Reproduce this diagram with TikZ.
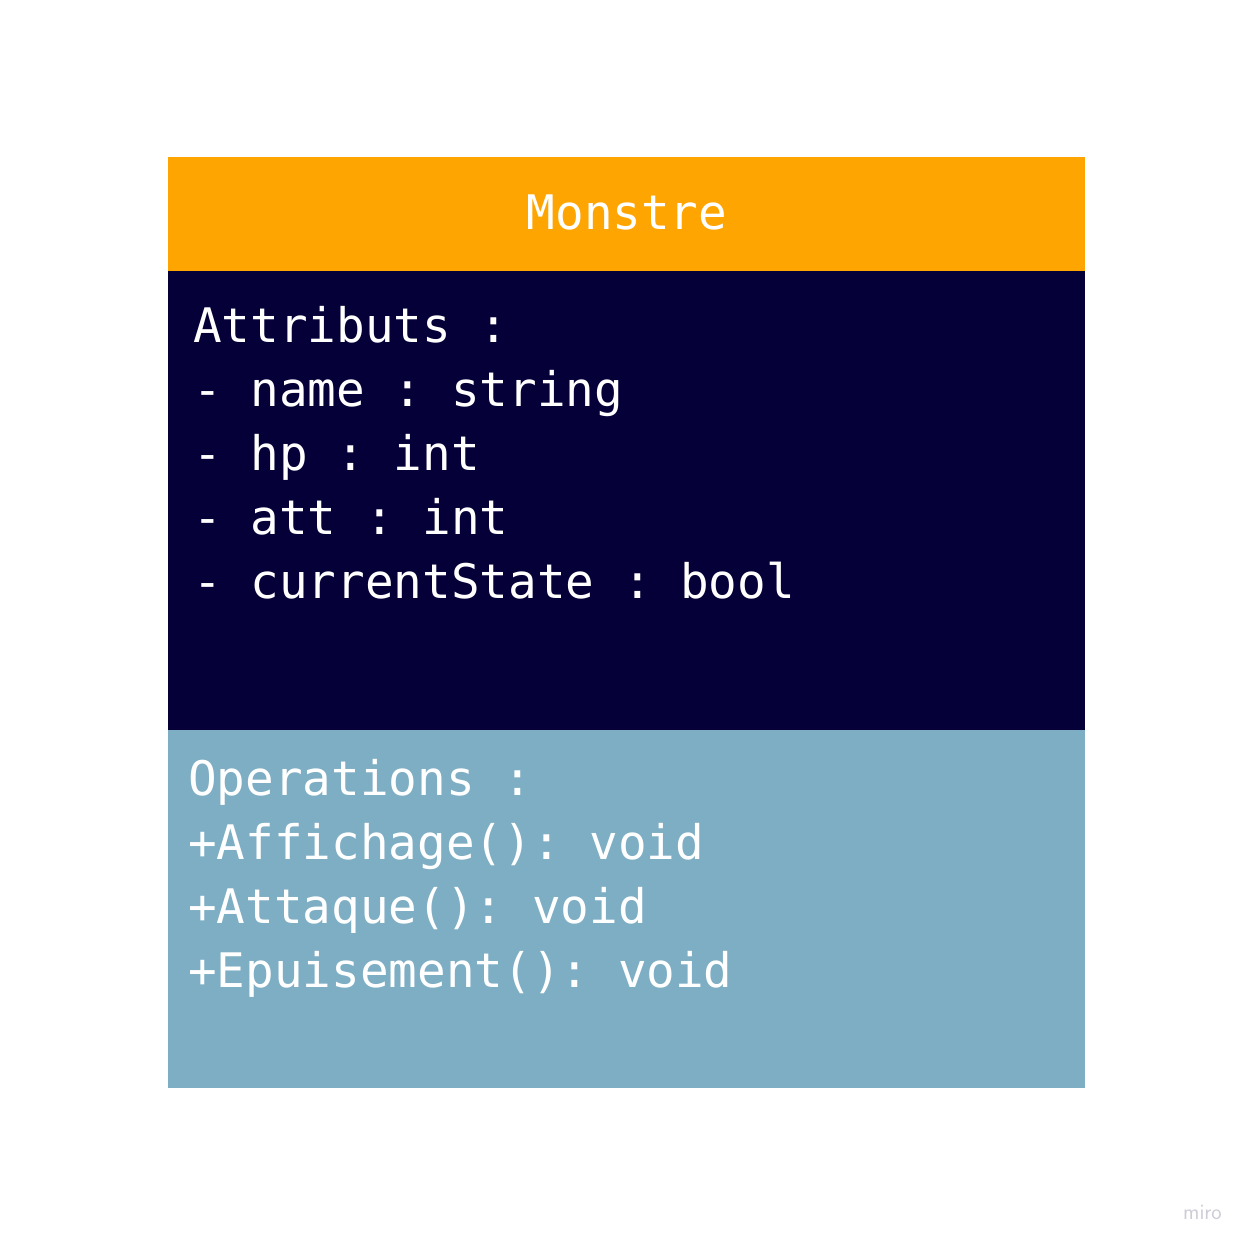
\documentclass[tikz,border=0pt]{standalone}
\usepackage{fontspec}
\setmonofont{DejaVu Sans Mono}
\usepackage{tikz}
\usetikzlibrary{positioning}
\definecolor{headorange}{HTML}{FFA502}
\definecolor{attrnavy}{HTML}{050038}
\definecolor{opsblue}{HTML}{7EAEC4}
\definecolor{mirogrey}{HTML}{CDCDD8}
\tikzstyle{compartment}=[rectangle, inner sep=0pt, minimum width=917pt, anchor=north west]
\tikzstyle{umltext}=[inner sep=0pt, anchor=base west, text=white, font=\ttfamily\fontsize{47.6}{64}\selectfont]

\begin{document}
\begin{tikzpicture}[x=1pt, y=-1pt]
\useasboundingbox[fill=white] (0,0) rectangle (1251,1248);
\node[compartment, fill=headorange, minimum height=114pt] (head) at (168,157){};
\node[compartment, fill=attrnavy, minimum height=459pt] (attrs) at (168,271){};
\node[compartment, fill=opsblue, minimum height=358pt] (ops) at (168,730){};
\node[umltext, anchor=base] (title) at (627,229){Monstre};
\node[umltext] (attr0) at (193,342){Attributs :};
\node[umltext] (attr1) at (193,406){- name : string};
\node[umltext] (attr2) at (193,470){- hp : int};
\node[umltext] (attr3) at (193,534){- att : int};
\node[umltext] (attr4) at (193,598){- currentState : bool};
\node[umltext] (op0) at (188,795){Operations :};
\node[umltext] (op1) at (188,859){+Affichage(): void};
\node[umltext] (op2) at (188,923){+Attaque(): void};
\node[umltext] (op3) at (188,987){+Epuisement(): void};
\node[inner sep=0pt, anchor=base east, text=mirogrey, font=\sffamily\fontsize{22}{26}\selectfont] (miro) at (1222,1219){miro};
\end{tikzpicture}
\end{document}
